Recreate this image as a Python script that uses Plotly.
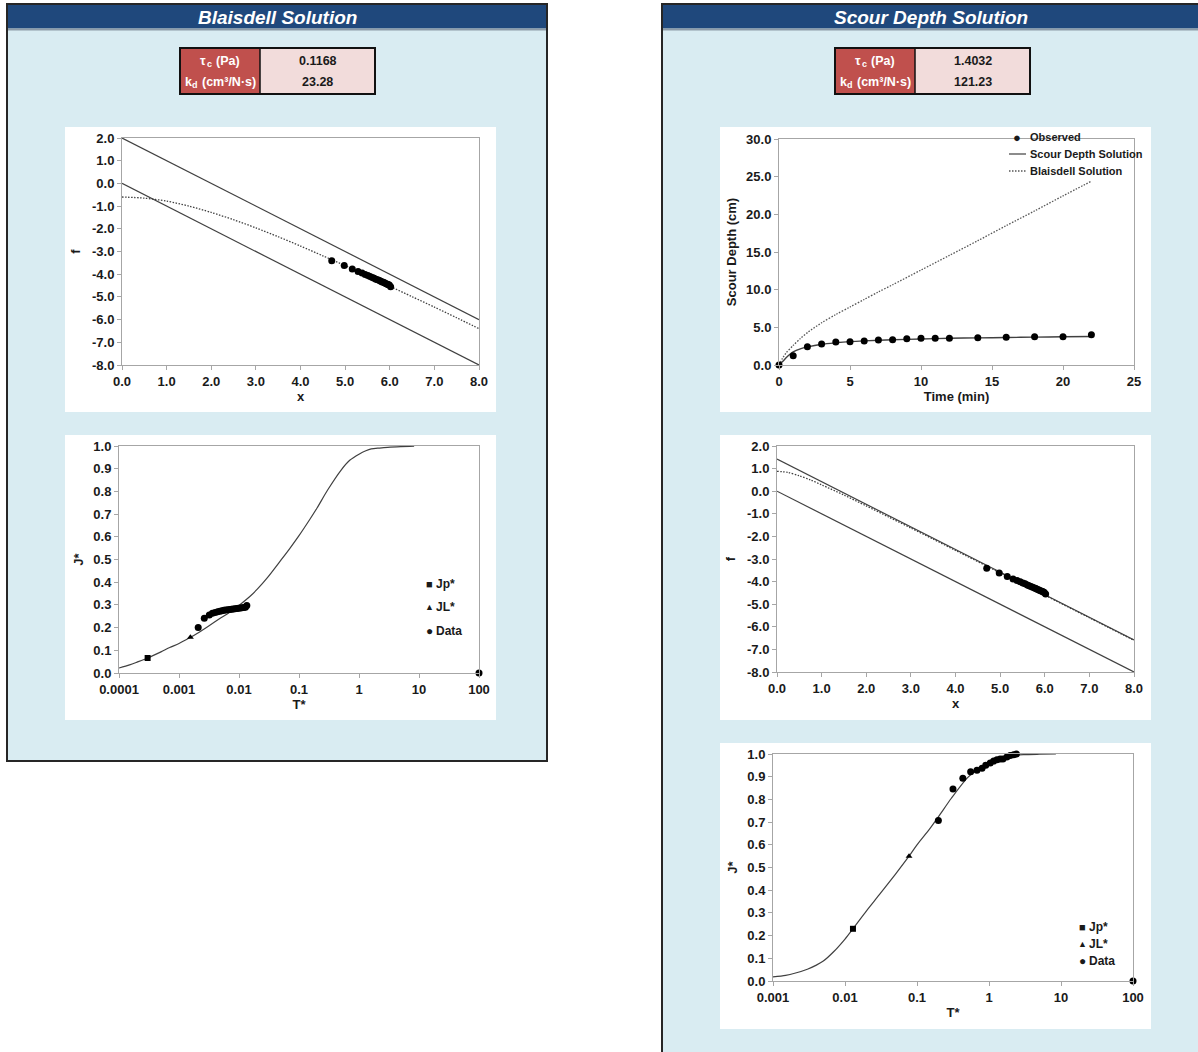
import plotly.graph_objects as go

W, H = 1198, 1052


def px(x):
    return x / W


def py(y):
    return 1 - y / H


# ------------------------------------------------------------------ DATA
# Blaisdell panel: f vs x
bl_line_x = [0.0, 8.0]
bl_upper_f = [2.0, -6.0]
bl_lower_f = [0.0, -8.0]
bl_hyp_x = [0, 0.5, 1, 1.5, 2, 2.5, 3, 3.5, 4, 4.5, 5, 5.5, 6, 6.5, 7, 7.5, 8]
bl_hyp_f = [-0.60, -0.65, -0.78, -1.00, -1.28, -1.60, -1.96, -2.35, -2.76,
            -3.19, -3.62, -4.07, -4.53, -4.99, -5.45, -5.92, -6.40]

# measured points in f-x space (same for both panels)
pts_x = [4.70, 4.98, 5.16, 5.29, 5.38, 5.45, 5.51, 5.56, 5.61, 5.65, 5.69,
         5.73, 5.77, 5.80, 5.83, 5.86, 5.89, 5.92, 5.95, 5.97, 5.99, 6.02]
pts_f = [-3.41, -3.62, -3.77, -3.88, -3.95, -4.01, -4.06, -4.10, -4.15, -4.18,
         -4.22, -4.25, -4.28, -4.31, -4.34, -4.36, -4.39, -4.42, -4.44, -4.46,
         -4.48, -4.55]

# Blaisdell panel: J* vs T*
bl_curve_T = [1e-4, 1.5e-4, 2e-4, 3e-4, 5e-4, 7e-4, 1e-3, 1.5e-3, 2e-3, 3e-3,
              5e-3, 7e-3, 1e-2, 1.5e-2, 2e-2, 3e-2, 5e-2, 7e-2, 0.1, 0.15, 0.2,
              0.3, 0.5, 0.7, 1.0, 1.3, 1.6, 2.2, 3.0, 5.0, 8.3]
bl_curve_J = [0.022, 0.036, 0.048, 0.066, 0.093, 0.112, 0.130, 0.155, 0.174,
              0.204, 0.243, 0.268, 0.298, 0.336, 0.368, 0.421, 0.497, 0.548,
              0.605, 0.675, 0.727, 0.806, 0.893, 0.937, 0.964, 0.979, 0.987,
              0.991, 0.994, 0.997, 0.999]
bl_jp = ([3.0e-4], [0.066])
bl_jl = ([1.55e-3], [0.158])
bl_data_T = [0.00209, 0.00264, 0.0032, 0.0036, 0.0040, 0.0044, 0.0048, 0.0052,
             0.0056, 0.0060, 0.0065, 0.0070, 0.0075, 0.0080, 0.0086, 0.0092,
             0.0098, 0.0105, 0.0112, 0.0120, 0.0128, 0.0135, 100]
bl_data_J = [0.200, 0.241, 0.256, 0.263, 0.267, 0.270, 0.272, 0.274, 0.276,
             0.278, 0.279, 0.280, 0.281, 0.282, 0.283, 0.284, 0.285, 0.286,
             0.287, 0.288, 0.290, 0.297, 0.0]

# Scour depth panel: depth vs time
obs_t = [0, 1, 2, 3, 4, 5, 6, 7, 8, 9, 10, 11, 12, 14, 16, 18, 20, 22]
obs_d = [0.0, 1.24, 2.43, 2.79, 3.05, 3.10, 3.19, 3.32, 3.36, 3.50, 3.54,
         3.54, 3.54, 3.63, 3.67, 3.76, 3.76, 4.03]
sol_t = [0, 0.25, 0.5, 0.75, 1, 1.5, 2, 3, 4, 5, 6, 8, 10, 12, 14, 16, 18, 20, 22]
sol_d = [0.0, 0.45, 0.95, 1.40, 1.75, 2.15, 2.40, 2.75, 2.95, 3.10, 3.20,
         3.35, 3.45, 3.55, 3.60, 3.65, 3.70, 3.75, 3.78]
bsol_t = [0, 0.25, 0.5, 1, 1.5, 2, 3, 4, 5, 6, 7, 8, 10, 12, 14, 16, 18, 20, 22]
bsol_d = [0.0, 0.9, 1.6, 2.6, 3.5, 4.3, 5.6, 6.7, 7.7, 8.7, 9.7, 10.65, 12.6,
          14.55, 16.5, 18.5, 20.45, 22.45, 24.4]

# Scour depth panel: f vs x
sd_upper_f = [1.42, -6.58]
sd_lower_f = [0.0, -8.0]
sd_hyp_x = [0, 0.25, 0.5, 0.75, 1, 1.5, 2, 2.5, 3, 3.5, 4, 5, 6, 7, 8]
sd_hyp_f = [0.88, 0.83, 0.68, 0.50, 0.28, -0.17, -0.65, -1.14, -1.63, -2.12,
            -2.62, -3.61, -4.60, -5.60, -6.60]

# Scour depth panel: J* vs T*
sd_curve_T = [0.001, 0.0015, 0.002, 0.003, 0.004, 0.005, 0.007, 0.01, 0.0129,
              0.02, 0.03, 0.05, 0.0775, 0.1, 0.15, 0.2, 0.3, 0.5, 0.7, 1.0,
              1.5, 2.0, 3.0, 5.0, 8.5]
sd_curve_J = [0.018, 0.025, 0.034, 0.052, 0.070, 0.088, 0.130, 0.185, 0.230,
              0.310, 0.380, 0.470, 0.550, 0.600, 0.670, 0.725, 0.805, 0.895,
              0.935, 0.962, 0.983, 0.992, 0.997, 0.999, 1.000]
sd_jp = ([0.0129], [0.23])
sd_jl = ([0.0775], [0.55])
sd_data_T = [0.198, 0.316, 0.433, 0.556, 0.68, 0.80, 0.90, 1.04, 1.16, 1.29,
             1.43, 1.56, 1.77, 1.97, 2.2, 2.4, 100]
sd_data_J = [0.707, 0.846, 0.893, 0.922, 0.928, 0.937, 0.950, 0.960, 0.969,
             0.975, 0.978, 0.978, 0.987, 0.993, 0.997, 1.000, 0.0]

# tick labels
f_ticks = [2, 1, 0, -1, -2, -3, -4, -5, -6, -7, -8]
f_text = ["2.0", "1.0", "0.0", "-1.0", "-2.0", "-3.0", "-4.0", "-5.0", "-6.0",
          "-7.0", "-8.0"]
log_ticks_bl = [0.0001, 0.001, 0.01, 0.1, 1, 10, 100]
log_text_bl = ["0.0001", "0.001", "0.01", "0.1", "1", "10", "100"]
log_ticks_sd = [0.001, 0.01, 0.1, 1, 10, 100]
log_text_sd = ["0.001", "0.01", "0.1", "1", "10", "100"]

# table values
table_vals = [("0.1168", "23.28"), ("1.4032", "121.23")]

# ------------------------------------------------------------------ STYLE
FONT = "Liberation Sans, Arial, sans-serif"
INK = "#1a1a1a"
LINE = "#404040"
NAVY = "#1f487c"
LIGHT = "#d9ecf2"
RED = "#c0504d"
PINK = "#f2dcdb"
DOTS = "1.5px,1.5px"

tickfont = dict(family=FONT, size=13, color=INK, weight="bold")
titlefont = dict(family=FONT, size=13, color=INK, weight="bold")

fig = go.Figure()


def axis(domain_px, horizontal, **kw):
    a, b = domain_px
    if horizontal:
        dom = [px(a), px(b)]
    else:
        dom = [py(b), py(a)]
    d = dict(domain=dom, showgrid=False, zeroline=False, showline=True,
             linecolor="#a6a6a6", linewidth=1, mirror=True, ticks="outside",
             ticklen=4, tickcolor="#a6a6a6", tickfont=tickfont,
             automargin=False)
    d.update(kw)
    return d


layout_axes = {}

# subplot 1: Blaisdell f-x
layout_axes["xaxis"] = axis((122, 479), True, anchor="y", range=[0, 8], dtick=1,
                            tickformat=".1f",
                            title=dict(text="x", font=titlefont, standoff=4))
layout_axes["yaxis"] = axis((138, 365), False, anchor="x", range=[-8, 2],
                            tickvals=f_ticks, ticktext=f_text,
                            title=dict(text="f", font=titlefont, standoff=8))
# subplot 2: Blaisdell J*-T*
layout_axes["xaxis2"] = axis((119, 479), True, anchor="y2", type="log",
                             range=[-4, 2], tickvals=log_ticks_bl,
                             ticktext=log_text_bl,
                             title=dict(text="T*", font=titlefont, standoff=4))
layout_axes["yaxis2"] = axis((446, 673), False, anchor="x2", range=[0, 1],
                             dtick=0.1, tickformat=".1f",
                             title=dict(text="J*", font=titlefont, standoff=6))
# subplot 3: Scour depth vs time
layout_axes["xaxis3"] = axis((779, 1134), True, anchor="y3", range=[0, 25],
                             dtick=5,
                             title=dict(text="Time (min)", font=titlefont,
                                        standoff=4))
layout_axes["yaxis3"] = axis((139, 365), False, anchor="x3", range=[0, 30],
                             dtick=5, tickformat=".1f",
                             title=dict(text="Scour Depth (cm)",
                                        font=titlefont, standoff=6))
# subplot 4: Scour f-x
layout_axes["xaxis4"] = axis((777, 1134), True, anchor="y4", range=[0, 8],
                             dtick=1, tickformat=".1f",
                             title=dict(text="x", font=titlefont, standoff=4))
layout_axes["yaxis4"] = axis((446, 672), False, anchor="x4", range=[-8, 2],
                             tickvals=f_ticks, ticktext=f_text,
                             title=dict(text="f", font=titlefont, standoff=8))
# subplot 5: Scour J*-T*
layout_axes["xaxis5"] = axis((773, 1133), True, anchor="y5", type="log",
                             range=[-3, 2], tickvals=log_ticks_sd,
                             ticktext=log_text_sd,
                             title=dict(text="T*", font=titlefont, standoff=4))
layout_axes["yaxis5"] = axis((754, 981), False, anchor="x5", range=[0, 1],
                             dtick=0.1, tickformat=".1f",
                             title=dict(text="J*", font=titlefont, standoff=6))


def line(x, y, xa, ya, dash="solid", width=1.2, color=LINE, smooth=True):
    ln = dict(color=color, width=width, dash=dash)
    if smooth:
        ln.update(shape="spline", smoothing=0.8)
    fig.add_trace(go.Scatter(x=x, y=y, xaxis=xa, yaxis=ya, mode="lines",
                             line=ln, cliponaxis=False, hoverinfo="skip"))


def marks(x, y, xa, ya, symbol="circle", size=7):
    fig.add_trace(go.Scatter(x=x, y=y, xaxis=xa, yaxis=ya, mode="markers",
                             marker=dict(color="black", size=size,
                                         symbol=symbol),
                             cliponaxis=False))


# 1
line(bl_line_x, bl_upper_f, "x", "y", smooth=False)
line(bl_line_x, bl_lower_f, "x", "y", smooth=False)
line(bl_hyp_x, bl_hyp_f, "x", "y", dash=DOTS, width=1.3)
marks(pts_x, pts_f, "x", "y", size=7)
# 2
line(bl_curve_T, bl_curve_J, "x2", "y2")
marks(*bl_jp, "x2", "y2", symbol="square", size=6)
marks(*bl_jl, "x2", "y2", symbol="triangle-up", size=6)
marks(bl_data_T, bl_data_J, "x2", "y2", size=7)
# 3
line(bsol_t, bsol_d, "x3", "y3", dash=DOTS, width=1.3, color="#555555")
line(sol_t, sol_d, "x3", "y3", width=1.4)
marks(obs_t, obs_d, "x3", "y3", size=7)
# 4
line(bl_line_x, sd_upper_f, "x4", "y4", smooth=False)
line(bl_line_x, sd_lower_f, "x4", "y4", smooth=False)
line(sd_hyp_x, sd_hyp_f, "x4", "y4", dash=DOTS, width=1.3)
marks(pts_x, pts_f, "x4", "y4", size=7)
# 5
line(sd_curve_T, sd_curve_J, "x5", "y5")
marks(*sd_jp, "x5", "y5", symbol="square", size=6)
marks(*sd_jl, "x5", "y5", symbol="triangle-up", size=6)
marks(sd_data_T, sd_data_J, "x5", "y5", size=7)

# ------------------------------------------------------------------ DECOR
shapes = []


def rect(x0, y0, x1, y1, fill=None, lc=None, lw=0, layer="below"):
    shapes.append(dict(type="rect", xref="paper", yref="paper",
                       x0=px(x0), x1=px(x1), y0=py(y1), y1=py(y0),
                       fillcolor=fill if fill else "rgba(0,0,0,0)",
                       line=dict(color=lc if lc else "rgba(0,0,0,0)",
                                 width=lw), layer=layer))


def hline(x0, x1, y, color, width=1, dash="solid", layer="below"):
    shapes.append(dict(type="line", xref="paper", yref="paper",
                       x0=px(x0), x1=px(x1), y0=py(y), y1=py(y),
                       line=dict(color=color, width=width, dash=dash),
                       layer=layer))


# panels
for (x0, y0, x1, y1) in [(7, 4, 547, 761), (662, 4, 1210, 1070)]:
    rect(x0, y0, x1, y1, fill=LIGHT)
    rect(x0, y0, x1, 28.5, fill=NAVY)
    hline(x0, x1, 29.5, "#8d9ba8", width=2)
    rect(x0, y0, x1, y1, lc="#262626", lw=2)

# white chart boxes
for (x0, y0, x1, y1) in [(65, 127, 496, 412), (65, 435, 496, 720),
                         (720, 127, 1151, 412), (720, 435, 1151, 720),
                         (720, 743, 1151, 1029)]:
    rect(x0, y0, x1, y1, fill="white")

# tables
for (x0, lab_w) in [(180, 80), (835, 80)]:
    rect(x0, 48, x0 + lab_w, 94, fill=RED)
    rect(x0 + lab_w, 48, x0 + 195, 94, fill=PINK)
    shapes.append(dict(type="line", xref="paper", yref="paper",
                       x0=px(x0 + lab_w), x1=px(x0 + lab_w), y0=py(48),
                       y1=py(94), line=dict(color="#111111", width=1.5),
                       layer="below"))
    rect(x0, 48, x0 + 195, 94, lc="#111111", lw=2)

# legend samples (right top)
hline(1009, 1026, 154, LINE, width=1.2, layer="above")
hline(1009, 1026, 171, "#555555", width=1.3, dash=DOTS, layer="above")

annots = []


def text(x, y, s, size=12, color=INK, anchor="center", bold=True,
         italic=False, family=FONT):
    annots.append(dict(xref="paper", yref="paper", x=px(x), y=py(y),
                       text=s, showarrow=False, xanchor=anchor,
                       yanchor="middle", borderpad=0,
                       font=dict(family=family, size=size, color=color,
                                 weight="bold" if bold else "normal",
                                 style="italic" if italic else "normal")))


text(277, 17, "Blaisdell Solution", size=19, color="white", italic=True)
text(931, 17, "Scour Depth Solution", size=19, color="white", italic=True)

for x0, (v1, v2) in zip([180, 835], table_vals):
    # row 1: tau_c (Pa)
    text(x0 + 19, 61, "τ", size=12.5, color="white", anchor="left")
    text(x0 + 26, 64, "c", size=9, color="white", anchor="left")
    text(x0 + 35, 61, "(Pa)", size=12.5, color="white", anchor="left")
    # row 2: k_d (cm3/N·s)
    text(x0 + 4, 82, "k", size=12.5, color="white", anchor="left")
    text(x0 + 11, 85, "d", size=9, color="white", anchor="left")
    text(x0 + 20.5, 82, "(cm³/N·s)", size=12.5, color="white", anchor="left")
    text(x0 + 137.5, 61, v1, size=12.5)
    text(x0 + 137.5, 82, v2, size=12.5)

# legend (right top)
text(1017, 137, "●", size=13)
text(1029, 137, "Observed", size=11, anchor="left")
text(1029, 154, "Scour Depth Solution", size=11, anchor="left")
text(1029, 171, "Blaisdell Solution", size=11, anchor="left")

# legends (J* charts)
for (sx, tx, ys) in [(429, 435, (584, 607, 631)), (1082, 1088, (927, 944, 961))]:
    text(sx, ys[0], "■", size=11)
    text(tx, ys[0], "Jp*", size=12, anchor="left")
    text(sx, ys[1], "▲", size=9)
    text(tx, ys[1], "JL*", size=12, anchor="left")
    text(sx, ys[2], "●", size=12)
    text(tx, ys[2], "Data", size=12, anchor="left")

fig.update_layout(width=W, height=H, margin=dict(l=0, r=0, t=0, b=0),
                  paper_bgcolor="white", plot_bgcolor="white",
                  showlegend=False, hovermode=False, shapes=shapes,
                  annotations=annots, **layout_axes)

fig.write_html("out.html", config={"displayModeBar": False,
                                   "staticPlot": True},
               post_script="document.body.style.margin='0';"
                           "document.body.style.overflow='hidden';")
